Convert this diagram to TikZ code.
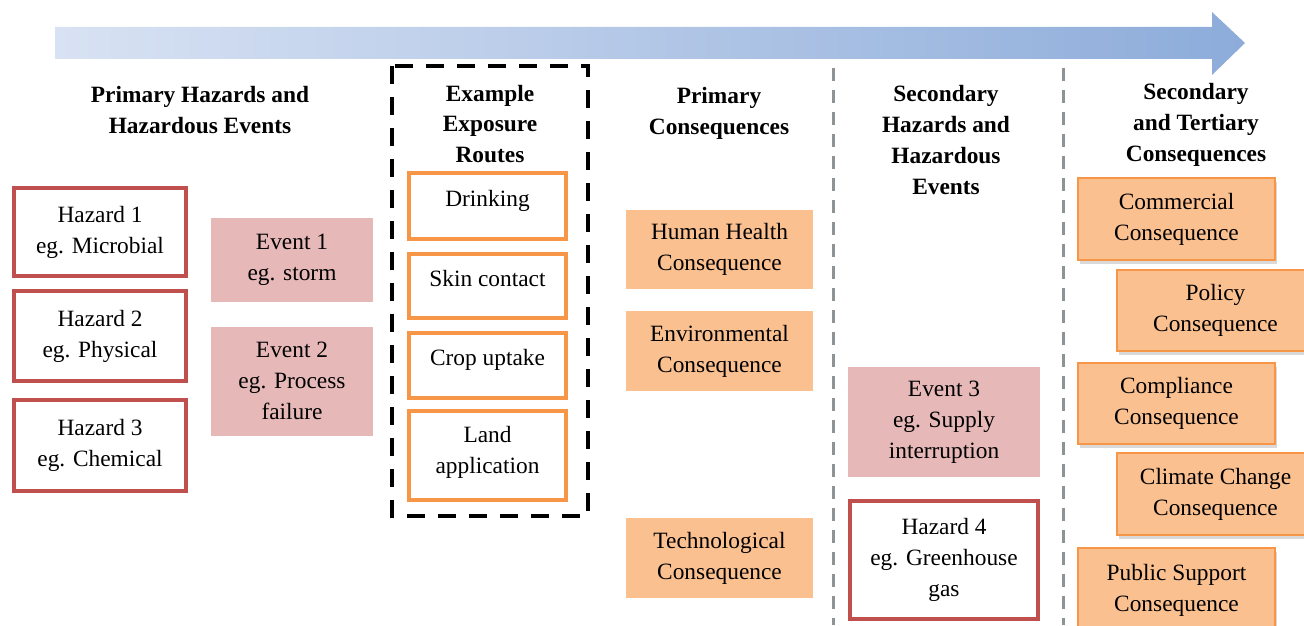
\documentclass[tikz,border=0pt]{standalone}
\usepackage{fontspec}
\setmainfont{Liberation Serif}
\usepackage{tikz}
\usetikzlibrary{shadows}
\definecolor{hazred}{HTML}{C0504D}
\definecolor{evpink}{HTML}{E6B9B8}
\definecolor{routeorange}{HTML}{F79646}
\definecolor{conorange}{HTML}{FAC090}
\definecolor{divgray}{HTML}{8E9396}
\definecolor{arrowleft}{HTML}{D8E2F3}
\definecolor{arrowright}{HTML}{8DACDA}

\begin{document}
\begin{tikzpicture}[
x=0.02cm, y=-0.02cm,
every node/.style={font=\fontsize{13.3}{17.6}\selectfont, align=center, inner sep=0pt},
wh/.style 2 args={minimum width=#1*0.02cm, minimum height=#2*0.02cm},
head/.style={font=\fontsize{13.3}{17.6}\selectfont\bfseries},
hazard/.style={draw=hazred, line width=0.08cm, fill=white},
event/.style={fill=evpink},
route/.style={draw=routeorange, line width=0.08cm, fill=white},
toptext/.style={text height=0.33cm, text depth=0.32cm},
conseq/.style={fill=conorange},
tertiary/.style={conseq, draw=routeorange, line width=0.7pt,
	drop shadow={shadow xshift=0.03cm, shadow yshift=-0.07cm, opacity=0.3}},
divider/.style={divgray, line width=0.06cm, dash pattern=on 0.26cm off 0.18cm}
]
\useasboundingbox (0,0) rectangle (1304,625);

% time arrow
\shade[left color=arrowleft, right color=arrowright]
	(55,27) -- (1212,27) -- (1212,12) -- (1245,43) -- (1212,75) -- (1212,59) -- (55,59) -- cycle;

% column headings
\node[head] (t1) at (200,110) {Primary Hazards and\\Hazardous Events};
\node[head] (t2) at (490,124) {Example\\Exposure\\Routes};
\node[head] (t3) at (719,113) {Primary\\Consequences};
\node[head] (t4) at (946,140) {Secondary\\Hazards and\\Hazardous\\Events};
\node[head] (t5) at (1196,125) {Secondary\\and Tertiary\\Consequences};

% dividers
\foreach \x in {833,1063}
	\draw[divider] (\x,68) -- (\x,625);
\draw[line width=0.09cm, dash pattern=on 0.36cm off 0.26cm] (392,66) rectangle (588,516);

% primary hazards and events
\node[hazard, wh={172}{88}] (h1) at (100,232) {Hazard 1\\eg. Microbial};
\node[hazard, wh={172}{90}] (h2) at (100,336) {Hazard 2\\eg. Physical};
\node[hazard, wh={172}{91}] (h3) at (100,445.5) {Hazard 3\\eg. Chemical};
\node[event, wh={162}{84}] (e1) at (292,260) {Event 1\\eg. storm};
\node[event, wh={162}{109}] (e2) at (292,381) {Event 2\\eg. Process\\failure};

% exposure routes
\node[route, toptext, wh={157}{66}] (r1) at (487.5,206) {Drinking};
\node[route, toptext, wh={157}{64}] (r2) at (487.5,286) {Skin contact};
\node[route, toptext, wh={157}{65}] (r3) at (487.5,365.5) {Crop uptake};
\node[route, text depth=0.22cm, wh={157}{89}] (r4) at (487.5,455.5) {Land\\application};

% primary consequences
\node[conseq, wh={187}{79}] (c1) at (719.5,249.5) {Human Health\\Consequence};
\node[conseq, wh={187}{80}] (c2) at (719.5,351) {Environmental\\Consequence};
\node[conseq, wh={187}{80}] (c3) at (719.5,558) {Technological\\Consequence};

% secondary hazards and events
\node[event, wh={192}{110}] (e3) at (944,422) {Event 3\\eg. Supply\\interruption};
\node[hazard, wh={188}{118}] (h4) at (944,560) {Hazard 4\\eg. Greenhouse\\gas};

% secondary and tertiary consequences
\node[tertiary, wh={197}{82}] (s1) at (1176.5,219) {Commercial\\Consequence};
\node[tertiary, wh={197}{81}] (s2) at (1215.5,310.5) {Policy\\Consequence};
\node[tertiary, wh={197}{81}] (s3) at (1176.5,403.5) {Compliance\\Consequence};
\node[tertiary, wh={197}{82}] (s4) at (1215.5,494) {Climate Change\\Consequence};
\node[tertiary, wh={197}{84}] (s5) at (1176.5,590) {Public Support\\Consequence};
\end{tikzpicture}
\end{document}
